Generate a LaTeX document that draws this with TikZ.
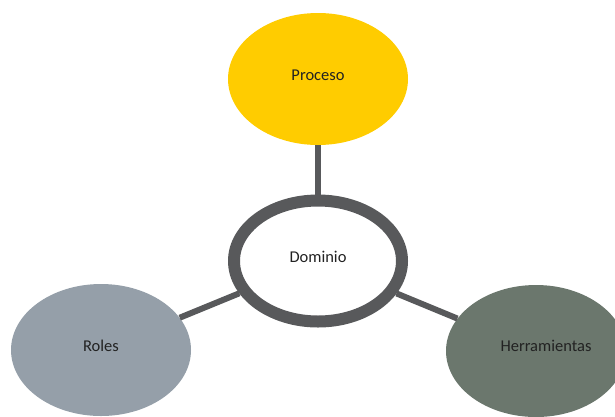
\documentclass[tikz,border=0pt]{standalone}
\usepackage{fontspec}
\setmainfont{Carlito}
\usepackage{tikz}
\usetikzlibrary{shapes.geometric,positioning}
\definecolor{procesoyellow}{HTML}{FFCC00}
\definecolor{ringgray}{HTML}{58595B}
\definecolor{rolesgray}{HTML}{959FA9}
\definecolor{herrgreen}{HTML}{6B776D}
\definecolor{labeltext}{HTML}{222222}
\tikzset
{
    bubble/.style  = {ellipse, align=center, inner sep=0pt, text=labeltext, text depth=8pt, font=\fontsize{16.5}{19}\selectfont, minimum width=180pt, minimum height=132pt},
    hub/.style     = {ellipse, align=center, inner sep=0pt, text=labeltext, text depth=8pt, font=\fontsize{16.5}{19}\selectfont, draw=ringgray, fill=white, line width=12pt, minimum width=168pt, minimum height=121pt},
    spoke/.style   = {draw=ringgray, line width=6pt}
}

\begin{document}
\begin{tikzpicture}[x=1pt, y=-1pt]
    \useasboundingbox (0,0) rectangle (615,416);
    \node [bubble, fill=procesoyellow] (proceso) at (318,79) {Proceso};
    \node [bubble, fill=rolesgray] (roles) at (101,350) {Roles};
    \node [bubble, fill=herrgreen] (herramientas) at (536,351) {};
    \node [text=labeltext, font=\fontsize{16.5}{19}\selectfont] (herrlabel) at (546,346) {Herramientas};
    \node [hub] (dominio) at (318,261) {Dominio};
    \draw [spoke] (proceso) -- (dominio);
    \draw [spoke] (roles) -- (dominio);
    \draw [spoke] (herramientas) -- (dominio);
\end{tikzpicture}
\end{document}
